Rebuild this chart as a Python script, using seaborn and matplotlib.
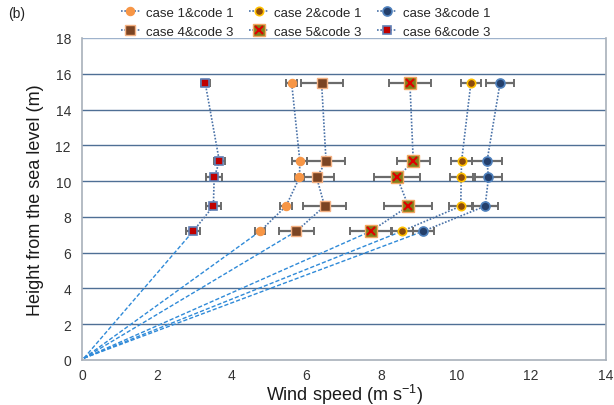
import numpy as np
import pandas as pd
import matplotlib
matplotlib.use("Agg")
import matplotlib.pyplot as plt
import seaborn as sns
from matplotlib.lines import Line2D
from matplotlib.legend_handler import HandlerTuple

# ── Dữ liệu ──────────────────────────────────────────────────────────────────
heights = [7.2, 8.6, 10.2, 11.1, 15.5]
origin_x, origin_y = 0.05, 0.1

labels = ["case 1&code 1", "case 2&code 1", "case 3&code 1",
          "case 4&code 3", "case 5&code 3", "case 6&code 3"]

case1 = [4.76, 5.45, 5.81, 5.82, 5.60]
case2 = [8.55, 10.12, 10.13, 10.14, 10.39]
case3 = [9.12, 10.77, 10.86, 10.82, 11.17]
case4 = [5.73, 6.48, 6.27, 6.52, 6.40]
case5 = [7.72, 8.72, 8.42, 8.85, 8.76]
case6 = [2.97, 3.51, 3.53, 3.67, 3.29]

err1 = [0.14, 0.17, 0.13, 0.20, 0.15]
err2 = [0.30, 0.32, 0.31, 0.27, 0.27]
err3 = [0.28, 0.34, 0.37, 0.41, 0.37]
err4 = [0.47, 0.58, 0.45, 0.51, 0.56]
err5 = [0.55, 0.64, 0.61, 0.44, 0.56]
err6 = [0.19, 0.19, 0.22, 0.14, 0.12]

speeds = [case1, case2, case3, case4, case5, case6]
errors = [err1, err2, err3, err4, err5, err6]

# kiểu marker cho từng case
styles = [
    dict(marker="o", ms=6.0, mfc="#f79646", mec="#f79646", mew=0.8),
    dict(marker="o", ms=6.0, mfc="#8b4a0b", mec="#ffc000", mew=1.2),
    dict(marker="o", ms=6.5, mfc="#243f6b", mec="#4f81bd", mew=1.2),
    dict(marker="s", ms=6.5, mfc="#7b4423", mec="#f4b183", mew=1.0),
    dict(marker="s", ms=8.0, mfc="#7f7f1a", mec="#f4a460", mew=1.0),
    dict(marker="s", ms=6.0, mfc="#c00000", mec="#5f7fb5", mew=1.2),
]

line_dot = "#4a72a8"
line_dash = "#2f8ad8"

# ── Bảng dài cho seaborn ─────────────────────────────────────────────────────
rows = []
for lab, xs in zip(labels, speeds):
    for h, x in zip(heights, xs):
        rows.append({"case": lab, "speed": x, "height": h})
df = pd.DataFrame(rows)

sns.set_theme(style="white")
plt.rcParams["font.family"] = ["Liberation Sans", "DejaVu Sans"]

fig = plt.figure(figsize=(6.14, 4.06), dpi=100)
ax = fig.add_axes([0.1336, 0.111, 0.8534, 0.793])

# lưới ngang
for y in np.arange(2, 19, 2):
    ax.axhline(y, color="#4f6f95" if y < 18 else "#9fb3cc", lw=1.0, zorder=0)

# đoạn nét đứt từ gốc tới điểm thấp nhất
for xs in speeds:
    ax.plot([origin_x, xs[0]], [origin_y, heights[0]], ls=(0, (3, 1.5)),
            color=line_dash, lw=1.0, zorder=1)

# đoạn chấm giữa các điểm đo
sns.lineplot(data=df, x="speed", y="height", units="case", estimator=None,
             sort=False, color=line_dot, lw=1.2, ls=(0, (1, 1)), ax=ax, zorder=2)

# thanh sai số + marker
for i, (xs, es, st) in enumerate(zip(speeds, errors, styles)):
    ax.errorbar(xs, heights, xerr=es, fmt="none", ecolor="#6b6b6b",
                elinewidth=1.6, capsize=3, capthick=1.4, zorder=3)
    ax.plot(xs, heights, ls="none", zorder=4, **st)
    if i == 4:
        ax.plot(xs, heights, ls="none", marker="x", ms=6, mec="#e00000",
                mew=1.5, zorder=5)

ax.set_xlim(0, 14)
ax.set_ylim(0, 18)
ax.set_xticks(np.arange(0, 15, 2))
ax.set_yticks(np.arange(0, 19, 2))
ax.tick_params(axis="x", direction="in", length=4, color="#a0a0a0",
               labelsize=10, labelcolor="#333333", pad=6)
ax.tick_params(axis="y", length=0, labelsize=10, labelcolor="#333333", pad=8)
for side in ["left", "bottom", "right"]:
    ax.spines[side].set_color("#a8b0ba")
    ax.spines[side].set_linewidth(1.2)
ax.spines["top"].set_visible(False)

ax.set_xlabel("Wind speed (m s$^{\\mathregular{-1}}$)", fontsize=13,
              color="#1a1a1a", labelpad=0)
ax.set_ylabel("Height from the sea level (m)", fontsize=13, color="#1a1a1a",
              labelpad=8)

# chú thích
handles = []
for i, st in enumerate(styles):
    h = Line2D([], [], color=line_dot, ls=(0, (1, 1)), lw=1.2, **st)
    if i == 4:
        hx = Line2D([], [], ls="none", marker="x", ms=6, mec="#e00000", mew=1.5)
        h = (h, hx)
    handles.append(h)
order = [0, 3, 1, 4, 2, 5]
fig.legend([handles[k] for k in order], [labels[k] for k in order],
           ncol=3, loc="upper left", bbox_to_anchor=(0.192, 0.988),
           frameon=False, fontsize=9.5, handlelength=1.5, handletextpad=0.4,
           columnspacing=1.2, labelspacing=0.5, borderpad=0.2,
           borderaxespad=0.0,
           handler_map={tuple: HandlerTuple(ndivide=1)})

fig.text(0.013, 0.955, "(b)", fontsize=10, color="#222222")

fig.savefig("out.png", dpi=100)
